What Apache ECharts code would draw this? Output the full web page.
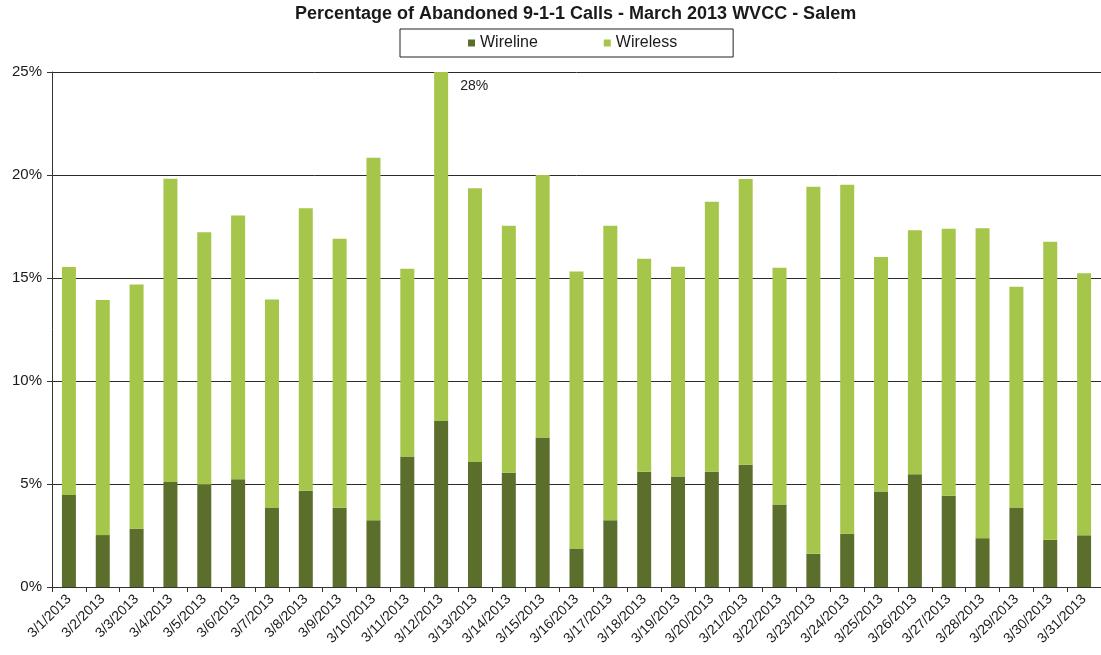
<!DOCTYPE html>
<html>
<head>
<meta charset="utf-8">
<title>Abandoned 9-1-1 Calls</title>
<script src="https://cdn.jsdelivr.net/npm/echarts@6/dist/echarts.min.js"></script>
<style>
  html, body { margin: 0; padding: 0; background: #fff; }
  #chart { width: 1101px; height: 655px; }
</style>
</head>
<body>
<div id="chart"></div>
<script>
const categories = [
  '3/1/2013', '3/2/2013', '3/3/2013', '3/4/2013', '3/5/2013', '3/6/2013', '3/7/2013', '3/8/2013',
  '3/9/2013', '3/10/2013', '3/11/2013', '3/12/2013', '3/13/2013', '3/14/2013', '3/15/2013', '3/16/2013',
  '3/17/2013', '3/18/2013', '3/19/2013', '3/20/2013', '3/21/2013', '3/22/2013', '3/23/2013', '3/24/2013',
  '3/25/2013', '3/26/2013', '3/27/2013', '3/28/2013', '3/29/2013', '3/30/2013', '3/31/2013'
]
// percent of calls
const wireline = [
  4.47, 2.52, 2.83, 5.10, 4.97, 5.23, 3.83, 4.67, 3.85, 3.24, 6.34, 8.06, 6.07, 5.55, 7.26, 1.87,
  3.24, 5.59, 5.37, 5.60, 5.94, 4.00, 1.61, 2.59, 4.63, 5.47, 4.43, 2.37, 3.86, 2.29, 2.51
]
const wireless = [
  11.06, 11.41, 11.85, 14.72, 12.25, 12.80, 10.13, 13.71, 13.06, 17.60, 9.11, 19.94, 13.29, 11.99, 12.74, 13.45,
  14.30, 10.35, 10.18, 13.10, 13.86, 11.50, 17.82, 16.94, 11.39, 11.85, 12.96, 15.04, 10.72, 14.47, 12.72
]
const yTicks = [0, 5, 10, 15, 20, 25]
const overflowIndex = 11 // 3/12 goes past the top of the axis

const font = 'Liberation Sans, Arial, sans-serif'
const chart = echarts.init(document.getElementById('chart'))

chart.setOption({
  animation: false,
  title: {
    text: 'Percentage of Abandoned 9-1-1 Calls - March 2013 WVCC - Salem',
    left: 290,
    top: 0,
    textStyle: { fontFamily: font, fontSize: 18, fontWeight: 'bold', color: '#1a1a1a' }
  },
  legend: {
    left: 400,
    top: 29,
    padding: [6, 56, 6, 68],
    borderColor: '#222',
    borderWidth: 1,
    itemWidth: 7,
    itemHeight: 7,
    itemGap: 66,
    icon: 'rect',
    textStyle: { fontFamily: font, fontSize: 16, color: '#1a1a1a' },
    data: ['Wireline', 'Wireless']
  },
  grid: {
    left: 52,
    right: -7,
    top: 72,
    bottom: 68
  },
  xAxis: {
    type: 'category',
    data: categories,
    axisLine: { lineStyle: { color: '#333', width: 1 } },
    axisTick: { show: true, interval: 0, length: 5, lineStyle: { color: '#333' } },
    axisLabel: {
      interval: 0,
      rotate: 45,
      margin: 10,
      fontFamily: font,
      fontSize: 14,
      color: '#1a1a1a'
    }
  },
  yAxis: {
    type: 'value',
    min: yTicks[0],
    max: yTicks[yTicks.length - 1],
    interval: 5,
    axisLine: { show: true, lineStyle: { color: '#333' } },
    axisTick: { show: true, length: 5, lineStyle: { color: '#333' } },
    axisLabel: {
      formatter: '{value}%',
      margin: 10,
      fontFamily: font,
      fontSize: 15,
      color: '#1a1a1a'
    },
    splitLine: { lineStyle: { color: '#2b2b2b', width: 1 } }
  },
  series: [
    {
      name: 'Wireline',
      type: 'bar',
      stack: 'total',
      barWidth: 14,
      itemStyle: { color: '#5b6e2b' },
      data: wireline
    },
    {
      name: 'Wireless',
      type: 'bar',
      stack: 'total',
      barWidth: 14,
      itemStyle: { color: '#a5c64a' },
      data: wireless.map((v, i) => i !== overflowIndex ? v : {
        value: v,
        label: {
          show: true,
          position: [26, 7],
          fontFamily: font,
          fontSize: 14,
          color: '#222',
          formatter: () => Math.round(wireline[i] + wireless[i]) + '%'
        }
      })
    }
  ]
})
</script>
</body>
</html>
